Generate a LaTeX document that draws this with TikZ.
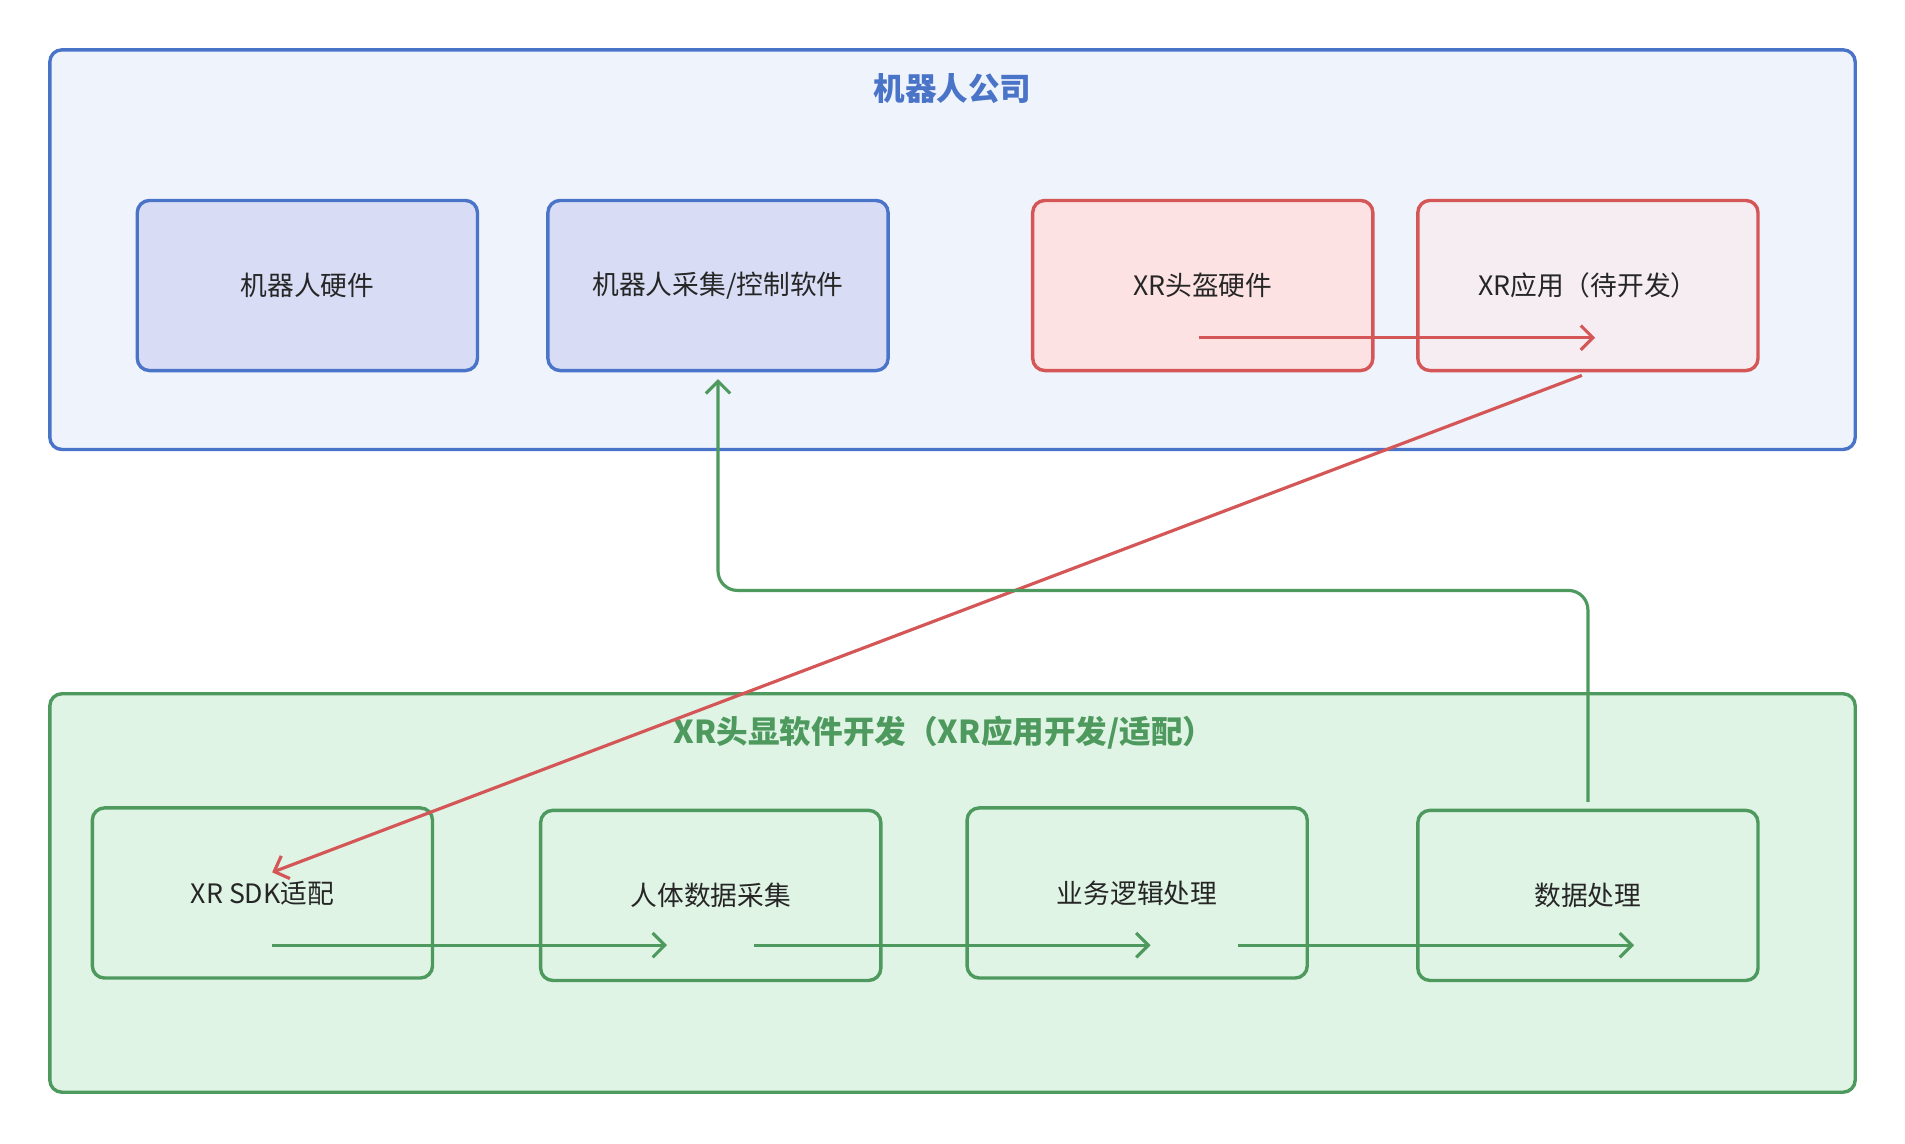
\documentclass[tikz,border=0pt]{standalone}
\usepackage{fontspec}
\setmainfont{Noto Sans CJK SC}
\usetikzlibrary{arrows.meta}
\definecolor{bb}{HTML}{4A74C8}
\definecolor{bfill}{HTML}{EFF3FC}
\definecolor{bbox}{HTML}{D8DDF5}
\definecolor{rr}{HTML}{D45656}
\definecolor{rfill1}{HTML}{FDE2E3}
\definecolor{rfill2}{HTML}{F5EDF1}
\definecolor{gg}{HTML}{4E9A5E}
\definecolor{gfill}{HTML}{DFF4E5}
\begin{document}
\begin{tikzpicture}[x=0.5pt,y=-0.5pt,
  box/.style={draw,line width=1.4pt,rounded corners=5pt,minimum width=140pt,minimum height=70pt,font=\fontsize{11}{13}\selectfont,text=black!85},
  blue/.style={box,draw=bb,fill=bbox},
  red/.style={box,draw=rr},
  green/.style={box,draw=gg,fill=gfill},
  arr/.style={line width=1.3pt,-{Straight Barb[length=5pt,width=10pt]}}]
\useasboundingbox (0,0) rectangle (1568,941);
\fill[white] (0,0) rectangle (1568,941);
\draw[bb,fill=bfill,line width=1.4pt,rounded corners=5pt] (41,41) rectangle (1527,370);
\node[text=bb,font=\fontsize{13}{15}\selectfont\bfseries] (t1) at (784,73) {机器人公司};
\draw[gg,fill=gfill,line width=1.4pt,rounded corners=5pt] (41,571) rectangle (1527,899);
\node[text=gg,font=\fontsize{13}{15}\selectfont\bfseries] (t2) at (777,603) {XR头显软件开发（XR应用开发/适配）};
\node[blue] (a) at (253,235) {机器人硬件};
\node[blue] (b) at (591,235) {机器人采集/控制软件};
\node[red,fill=rfill1] (c) at (990,235) {XR头盔硬件};
\node[red,fill=rfill2] (d) at (1307,235) {XR应用（待开发）};
\node[green] (e) at (216,735) {XR SDK适配};
\node[green] (f) at (585,737) {人体数据采集};
\node[green] (g) at (936,735) {业务逻辑处理};
\node[green] (h) at (1307,737) {数据处理};
\coordinate (c1) at (987,278); \coordinate (d1) at (1313,278);
\coordinate (d2) at (1302,309); \coordinate (e1) at (224,718);
\coordinate (e2) at (224,778); \coordinate (f1) at (549,778);
\coordinate (f2) at (621,778); \coordinate (g1) at (947,778);
\coordinate (g2) at (1019,778); \coordinate (h1) at (1345,778);
\coordinate (h2) at (1307,660); \coordinate (b1) at (591,312);
\draw[arr,rr] (c1) -- (d1);
\draw[arr,rr] (d2) -- (e1);
\draw[arr,gg] (e2) -- (f1);
\draw[arr,gg] (f2) -- (g1);
\draw[arr,gg] (g2) -- (h1);
\draw[arr,gg,rounded corners=8pt] (h2) -- (1307,486) -- (591,486) -- (b1);
\end{tikzpicture}
\end{document}
